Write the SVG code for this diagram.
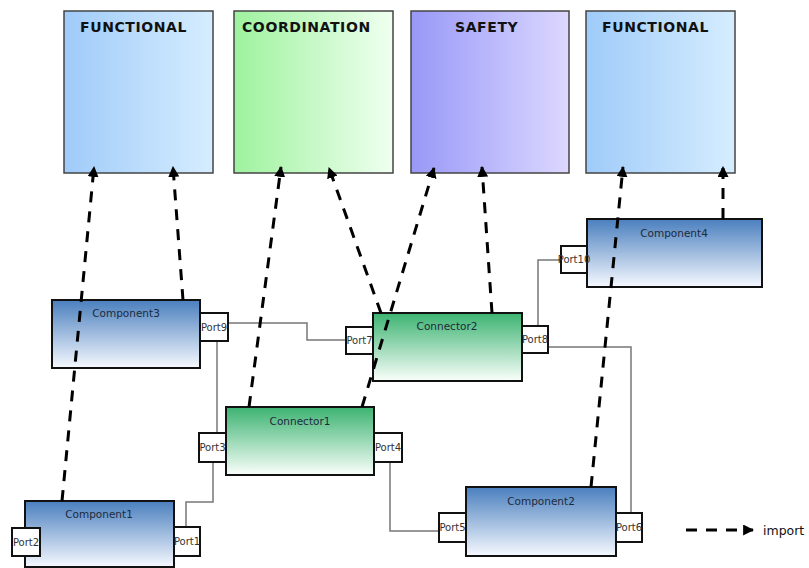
<svg xmlns="http://www.w3.org/2000/svg" width="809" height="568" viewBox="0 0 809 568">
<style>
.view{stroke:#444;stroke-width:1.5}
.title{font-family:"DejaVu Sans",sans-serif;font-weight:bold;font-size:14px;letter-spacing:0.6px;fill:#111}
.comp{fill:url(#gBlue);stroke:#111;stroke-width:2}
.conn{fill:url(#gGreen);stroke:#111;stroke-width:2}
.port{fill:#fff;stroke:#111;stroke-width:2}
.lbl{font-family:"DejaVu Sans",sans-serif;font-size:10.5px;fill:#1e2a3c;text-anchor:middle}
.plbl{font-family:"DejaVu Sans",sans-serif;font-size:10px;fill:#333;text-anchor:middle}
.wire{fill:none;stroke:#777;stroke-width:1.5}
.imp{fill:none;stroke:#000;stroke-width:3;stroke-dasharray:11 9;marker-end:url(#arr)}
</style>
<defs>
<linearGradient id="gFunc" x1="0" y1="0" x2="1" y2="0"><stop offset="0" stop-color="#9fcbf9"/><stop offset="1" stop-color="#d6edff"/></linearGradient>
<linearGradient id="gCoord" x1="0" y1="0" x2="1" y2="0"><stop offset="0" stop-color="#9ef29e"/><stop offset="1" stop-color="#f0fff0"/></linearGradient>
<linearGradient id="gSafe" x1="0" y1="0" x2="1" y2="0"><stop offset="0" stop-color="#9898f7"/><stop offset="1" stop-color="#dcd8ff"/></linearGradient>
<linearGradient id="gBlue" x1="0" y1="0" x2="0" y2="1"><stop offset="0" stop-color="#4a7fbe"/><stop offset="1" stop-color="#f6f9ff"/></linearGradient>
<linearGradient id="gGreen" x1="0" y1="0" x2="0" y2="1"><stop offset="0" stop-color="#3cb371"/><stop offset="1" stop-color="#fafffb"/></linearGradient>
<marker id="arr" markerUnits="userSpaceOnUse" markerWidth="11" markerHeight="11" viewBox="0 0 10 10" refX="9" refY="5" orient="auto"><path d="M0,0 L10,5 L0,10 z" fill="#000"/></marker>
</defs>
<rect width="809" height="568" fill="#fff"/>

<g id="view-functional-1"><rect class="view" x="64" y="11" width="149" height="162" fill="url(#gFunc)"/><text class="title" x="80" y="32">FUNCTIONAL</text></g>
<g id="view-coordination"><rect class="view" x="234" y="11" width="159" height="162" fill="url(#gCoord)"/><text class="title" x="242" y="32">COORDINATION</text></g>
<g id="view-safety"><rect class="view" x="411" y="11" width="158" height="162" fill="url(#gSafe)"/><text class="title" x="455" y="32">SAFETY</text></g>
<g id="view-functional-2"><rect class="view" x="586" y="11" width="149" height="162" fill="url(#gFunc)"/><text class="title" x="602" y="32">FUNCTIONAL</text></g>

<g id="wires">
<path class="wire" d="M228,323 H307 V340 H346"/>
<path class="wire" d="M217,341 V433"/>
<path class="wire" d="M213,462 V502 H186 V527"/>
<path class="wire" d="M390,462 V531 H439"/>
<path class="wire" d="M548,347 H631 V513"/>
<path class="wire" d="M538,326 V260 H561"/>
</g>

<g id="component3"><rect class="comp" x="52" y="300" width="148" height="68"/><text class="lbl" x="126" y="317">Component3</text></g>
<g id="port9"><rect class="port" x="200" y="313" width="28" height="28"/><text class="plbl" x="214" y="330.5">Port9</text></g>
<g id="connector2"><rect class="conn" x="373" y="313" width="149" height="68"/><text class="lbl" x="447" y="330">Connector2</text></g>
<g id="port7"><rect class="port" x="346" y="327" width="27" height="27"/><text class="plbl" x="359.5" y="344">Port7</text></g>
<g id="port8"><rect class="port" x="522" y="326" width="26" height="27"/><text class="plbl" x="535" y="343">Port8</text></g>
<g id="component4"><rect class="comp" x="587" y="219" width="175" height="68"/><text class="lbl" x="674" y="237">Component4</text></g>
<g id="port10"><rect class="port" x="561" y="246" width="26" height="27"/><text class="plbl" x="574" y="263">Port10</text></g>
<g id="connector1"><rect class="conn" x="226" y="407" width="148" height="68"/><text class="lbl" x="300" y="425">Connector1</text></g>
<g id="port3"><rect class="port" x="199" y="433" width="27" height="29"/><text class="plbl" x="212.5" y="451">Port3</text></g>
<g id="port4"><rect class="port" x="374" y="433" width="28" height="29"/><text class="plbl" x="388" y="451">Port4</text></g>
<g id="component1"><rect class="comp" x="25" y="501" width="149" height="66"/><text class="lbl" x="99" y="518">Component1</text></g>
<g id="port2"><rect class="port" x="12" y="528" width="28" height="28"/><text class="plbl" x="26" y="545.5">Port2</text></g>
<g id="port1"><rect class="port" x="174" y="527" width="26" height="29"/><text class="plbl" x="187" y="545">Port1</text></g>
<g id="component2"><rect class="comp" x="466" y="487" width="150" height="69"/><text class="lbl" x="541" y="505">Component2</text></g>
<g id="port5"><rect class="port" x="439" y="513" width="27" height="29"/><text class="plbl" x="452.5" y="531">Port5</text></g>
<g id="port6"><rect class="port" x="616" y="513" width="26" height="29"/><text class="plbl" x="629" y="531">Port6</text></g>

<g id="imports">
<path class="imp" d="M62,501 L94,167"/>
<path class="imp" d="M183,300 L173,167"/>
<path class="imp" d="M249,407 L281,167"/>
<path class="imp" d="M381,313 L329,168"/>
<path class="imp" d="M362,407 L434,168"/>
<path class="imp" d="M492,313 L482,167"/>
<path class="imp" d="M591,487 L623,167"/>
<path class="imp" d="M723,219 L723,167"/>
</g>

<g id="legend">
<path class="imp" d="M686,530 L753,530" stroke-dasharray="11 6"/>
<text x="763" y="535" font-family="DejaVu Sans, sans-serif" font-size="12.5" fill="#111">import</text>
</g>
</svg>
